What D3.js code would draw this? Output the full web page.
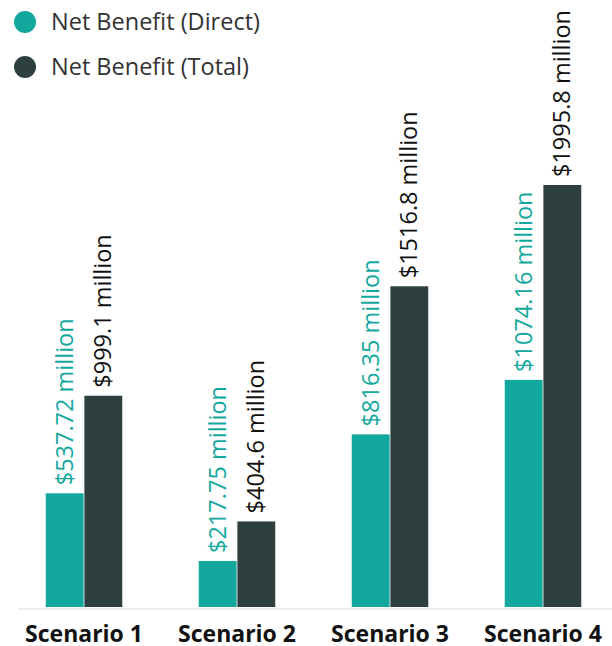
<!DOCTYPE html>
<html>
<head>
<meta charset="utf-8">
<script src="https://cdn.jsdelivr.net/npm/d3@7"></script>
<style>
  html, body { margin: 0; padding: 0; background: #fff; }
  svg { display: block; font-family: "Open Sans", "Noto Sans", sans-serif; }
</style>
</head>
<body>
<svg id="chart" width="612" height="646"></svg>
<script>
// Net benefit per scenario, in millions of dollars
const scenarios = ["Scenario 1", "Scenario 2", "Scenario 3", "Scenario 4"];
const seriesNames = ["Net Benefit (Direct)", "Net Benefit (Total)"];
const directValues = [537.72, 217.75, 816.35, 1074.16];
const totalValues = [999.1, 404.6, 1516.8, 1995.8];
const directLabels = ["$537.72 million", "$217.75 million", "$816.35 million", "$1074.16 million"];
const totalLabels = ["$999.1 million", "$404.6 million", "$1516.8 million", "$1995.8 million"];
const colors = ["#13a89e", "#2e3f3f"];
const labelColors = ["#13a89e", "#111111"];

const svg = d3.select("#chart");
const W = 612, H = 646;
const baseY = 607;

const rows = scenarios.map((s, i) => ({
  scenario: s,
  vals: [
    { key: 0, value: directValues[i], label: directLabels[i] },
    { key: 1, value: totalValues[i], label: totalLabels[i] }
  ]
}));

const x = d3.scaleBand().domain(scenarios).range([7.5, 619.5]).paddingInner(0.5).paddingOuter(0.25);
const xInner = d3.scaleBand().domain([0, 1]).range([0, x.bandwidth()]).paddingInner(0.02);
const y = d3.scaleLinear().domain([0, 1995.8]).range([baseY, 185]);

// baseline
svg.append("line")
  .attr("x1", 18).attr("x2", W)
  .attr("y1", baseY + 2).attr("y2", baseY + 2)
  .attr("stroke", "#dddddd").attr("stroke-width", 1);

const groups = svg.selectAll("g.scn").data(rows).join("g")
  .attr("class", "scn")
  .attr("transform", d => `translate(${x(d.scenario)},0)`);

groups.selectAll("rect").data(d => d.vals).join("rect")
  .attr("x", d => xInner(d.key))
  .attr("width", xInner.bandwidth())
  .attr("y", d => y(d.value))
  .attr("height", d => y(0) - y(d.value))
  .attr("fill", d => colors[d.key]);

groups.selectAll("text.val").data(d => d.vals).join("text")
  .attr("class", "val")
  .attr("transform", d => `translate(${xInner(d.key) + xInner.bandwidth() / 2 + 8},${y(d.value) - 8}) rotate(-90)`)
  .attr("fill", d => labelColors[d.key])
  .attr("font-size", 23.5)
  .text(d => d.label);

// category axis
const xAxis = svg.append("g")
  .attr("transform", `translate(0,${baseY})`)
  .call(d3.axisBottom(x).tickSize(0).tickPadding(0));
xAxis.select(".domain").remove();
xAxis.selectAll("text")
  .attr("y", 35)
  .attr("dy", 0)
  .attr("fill", "#111")
  .attr("font-size", 23)
  .attr("font-weight", "bold")
  .attr("font-family", "'Open Sans', sans-serif");

// legend
const legend = svg.selectAll("g.leg").data(seriesNames).join("g")
  .attr("class", "leg")
  .attr("transform", (d, i) => `translate(25,${22 + i * 45})`);
legend.append("circle").attr("r", 11).attr("fill", (d, i) => colors[i]);
legend.append("text")
  .attr("x", 26).attr("y", 8)
  .attr("font-size", 23.5)
  .attr("fill", "#333")
  .text(d => d);
</script>
</body>
</html>
